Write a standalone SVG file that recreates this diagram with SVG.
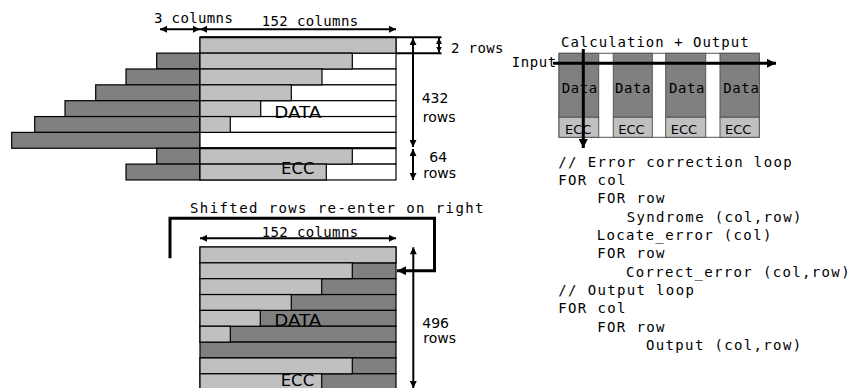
<svg xmlns="http://www.w3.org/2000/svg" width="853" height="388" viewBox="0 0 853 388">
<style>
.mono{font-family:"DejaVu Sans Mono",monospace;font-size:14px;fill:#000}
.sans{font-family:"DejaVu Sans",sans-serif;fill:#000}
.lbl{font-size:14px}
.big{font-size:16.5px}
.code{letter-spacing:1.35px}
.dk{fill:#808080;stroke:#000;stroke-width:1.2}
.lt{fill:#c0c0c0;stroke:#000;stroke-width:1.2}
.wh{fill:#fff;stroke:#000;stroke-width:1.2}
.bdk{fill:#808080;stroke:#555;stroke-width:1}
.blt{fill:#c0c0c0;stroke:#555;stroke-width:1}
.a2{stroke:#000;stroke-width:2;fill:none}
.a3{stroke:#000;stroke-width:3;fill:none}
</style>
<defs>
<marker id="ah" viewBox="0 0 10 10" refX="10" refY="5" markerUnits="userSpaceOnUse" markerWidth="8" markerHeight="7" orient="auto-start-reverse"><path d="M0,0L10,5L0,10z" fill="#000"/></marker>
<marker id="ahs" viewBox="0 0 10 10" refX="10" refY="5" markerUnits="userSpaceOnUse" markerWidth="6" markerHeight="6" orient="auto-start-reverse"><path d="M0,0L10,5L0,10z" fill="#000"/></marker>
<marker id="ahb" viewBox="0 0 10 10" refX="10" refY="5" markerUnits="userSpaceOnUse" markerWidth="10" markerHeight="9" orient="auto-start-reverse"><path d="M0,0L10,5L0,10z" fill="#000"/></marker>
</defs>

<g id="top-buffer">
<rect class="dk" x="156.7" y="53.15" width="43.3" height="15.85"/>
<rect class="dk" x="126" y="69" width="74" height="15.85"/>
<rect class="dk" x="95.7" y="84.85" width="104.3" height="15.85"/>
<rect class="dk" x="65" y="100.7" width="135" height="15.85"/>
<rect class="dk" x="34.7" y="116.55" width="165.3" height="15.85"/>
<rect class="dk" x="11.7" y="132.4" width="188.3" height="15.85"/>
<rect class="dk" x="156.7" y="148.25" width="43.3" height="15.85"/>
<rect class="dk" x="126" y="164.1" width="74" height="15.85"/>
<rect class="wh" x="200" y="37.3" width="196" height="15.85"/>
<rect class="wh" x="200" y="53.15" width="196" height="15.85"/>
<rect class="wh" x="200" y="69" width="196" height="15.85"/>
<rect class="wh" x="200" y="84.85" width="196" height="15.85"/>
<rect class="wh" x="200" y="100.7" width="196" height="15.85"/>
<rect class="wh" x="200" y="116.55" width="196" height="15.85"/>
<rect class="wh" x="200" y="132.4" width="196" height="15.85"/>
<rect class="wh" x="200" y="148.25" width="196" height="15.85"/>
<rect class="wh" x="200" y="164.1" width="196" height="15.85"/>
<rect class="lt" x="200" y="37.3" width="196" height="15.85"/>
<rect class="lt" x="200" y="53.15" width="152.3" height="15.85"/>
<rect class="lt" x="200" y="69" width="122" height="15.85"/>
<rect class="lt" x="200" y="84.85" width="91.3" height="15.85"/>
<rect class="lt" x="200" y="100.7" width="60.7" height="15.85"/>
<rect class="lt" x="200" y="116.55" width="30.3" height="15.85"/>
<rect class="lt" x="200" y="148.25" width="152.3" height="15.85"/>
<rect class="lt" x="200" y="164.1" width="126.3" height="15.85"/>
<line x1="200" y1="148.25" x2="396" y2="148.25" stroke="#000" stroke-width="2.2"/>
<line x1="200" y1="37.3" x2="441.5" y2="37.3" stroke="#000" stroke-width="2"/>
<line x1="396" y1="53.15" x2="441.5" y2="53.15" stroke="#000" stroke-width="2"/>
<text class="sans big" x="274.3" y="117.7" textLength="47" lengthAdjust="spacingAndGlyphs">DATA</text>
<text class="sans big" x="281" y="174">ECC</text>
</g>

<g id="bottom-buffer">
<rect class="dk" x="200" y="247" width="196" height="15.85"/>
<rect class="dk" x="200" y="262.85" width="196" height="15.85"/>
<rect class="dk" x="200" y="278.7" width="196" height="15.85"/>
<rect class="dk" x="200" y="294.55" width="196" height="15.85"/>
<rect class="dk" x="200" y="310.4" width="196" height="15.85"/>
<rect class="dk" x="200" y="326.25" width="196" height="15.85"/>
<rect class="dk" x="200" y="342.1" width="196" height="15.85"/>
<rect class="dk" x="200" y="357.95" width="196" height="15.85"/>
<rect class="dk" x="200" y="373.8" width="196" height="15.85"/>
<rect class="lt" x="200" y="247" width="196" height="15.85"/>
<rect class="lt" x="200" y="262.85" width="152.3" height="15.85"/>
<rect class="lt" x="200" y="278.7" width="121.7" height="15.85"/>
<rect class="lt" x="200" y="294.55" width="91.3" height="15.85"/>
<rect class="lt" x="200" y="310.4" width="60.3" height="15.85"/>
<rect class="lt" x="200" y="326.25" width="30.3" height="15.85"/>
<rect class="lt" x="200" y="357.95" width="152.3" height="15.85"/>
<rect class="lt" x="200" y="373.8" width="121.7" height="15.85"/>
<text class="sans big" x="274.3" y="326" textLength="47" lengthAdjust="spacingAndGlyphs">DATA</text>
<text class="sans big" x="280.7" y="385.5">ECC</text>
</g>

<g id="pipeline">
<rect x="559" y="53.3" width="200.3" height="84" fill="#fff" stroke="#555" stroke-width="1"/>
<rect class="bdk" x="559" y="53.3" width="39.7" height="64"/>
<rect class="blt" x="559" y="117.3" width="39.7" height="20"/>
<rect class="bdk" x="613.3" y="53.3" width="39" height="64"/>
<rect class="blt" x="613.3" y="117.3" width="39" height="20"/>
<rect class="bdk" x="665.7" y="53.3" width="40" height="64"/>
<rect class="blt" x="665.7" y="117.3" width="40" height="20"/>
<rect class="bdk" x="720" y="53.3" width="39.3" height="64"/>
<rect class="blt" x="720" y="117.3" width="39.3" height="20"/>
<text class="mono" style="letter-spacing:0.6px" x="561.7" y="93.3">Data</text>
<text class="mono" style="letter-spacing:0.6px" x="615" y="93.3">Data</text>
<text class="mono" style="letter-spacing:0.6px" x="669" y="93.3">Data</text>
<text class="mono" style="letter-spacing:0.6px" x="723.3" y="93.3">Data</text>
<text class="sans" style="font-size:13px" x="565" y="134.3">ECC</text>
<text class="sans" style="font-size:13px" x="618.3" y="134.3">ECC</text>
<text class="sans" style="font-size:13px" x="670.7" y="134.3">ECC</text>
<text class="sans" style="font-size:13px" x="725" y="134.3">ECC</text>
</g>

<g id="code" class="mono code">
<text x="558.3" y="166.7">// Error correction loop</text>
<text x="558.3" y="185">FOR col</text>
<text x="597.3" y="203.3">FOR row</text>
<text x="626.7" y="221.7">Syndrome (col,row)</text>
<text x="596.7" y="240">Locate_error (col)</text>
<text x="597.3" y="258.3">FOR row</text>
<text x="626" y="276.7">Correct_error (col,row)</text>
<text x="558.3" y="295">// Output loop</text>
<text x="558.3" y="313.3">FOR col</text>
<text x="597.3" y="331.7">FOR row</text>
<text x="646" y="350">Output (col,row)</text>
</g>

<g id="labels">
<text class="mono" style="letter-spacing:0.37px" x="154" y="23.3">3 columns</text>
<text class="mono" style="letter-spacing:0.37px" x="261.7" y="26">152 columns</text>
<text class="mono" style="letter-spacing:0.37px" x="451" y="53.3">2 rows</text>
<text class="sans lbl" x="421.7" y="103.3">432</text>
<text class="sans lbl" x="422.7" y="121.8">rows</text>
<text class="sans lbl" x="429.3" y="162.3">64</text>
<text class="sans lbl" x="423.3" y="178.3">rows</text>
<text class="mono" style="letter-spacing:1px" x="561" y="46.7">Calculation + Output</text>
<text class="mono" style="letter-spacing:0.6px" x="511.7" y="67">Input</text>
<text class="mono" style="letter-spacing:1.4px" x="190" y="213">Shifted rows re-enter on right</text>
<text class="mono" style="letter-spacing:0.37px" x="261.7" y="236.5">152 columns</text>
<text class="sans lbl" x="422.3" y="327.7">496</text>
<text class="sans lbl" x="423.3" y="343.3">rows</text>
</g>

<g id="connectors">
<line class="a2" x1="160" y1="29.3" x2="200" y2="29.3" marker-start="url(#ah)" marker-end="url(#ah)"/>
<line class="a2" x1="200" y1="29.3" x2="396" y2="29.3" marker-start="url(#ah)" marker-end="url(#ah)"/>
<line class="a2" x1="439" y1="38" x2="439" y2="52.5" marker-start="url(#ahs)" marker-end="url(#ahs)"/>
<line class="a2" x1="413" y1="38" x2="413" y2="147" marker-start="url(#ah)" marker-end="url(#ah)"/>
<line class="a2" x1="413" y1="149" x2="413" y2="180" marker-start="url(#ah)" marker-end="url(#ah)"/>
<line class="a3" x1="553" y1="63.3" x2="776" y2="63.3" marker-end="url(#ahb)"/>
<line class="a3" x1="583.3" y1="49" x2="583.3" y2="148" marker-end="url(#ahb)"/>
<line class="a2" x1="200" y1="238.3" x2="396" y2="238.3" marker-start="url(#ah)" marker-end="url(#ah)"/>
<path class="a3" d="M170,258.3V218.3H434.5V270.7H397" marker-end="url(#ahb)"/>
<line class="a2" x1="413.3" y1="247.3" x2="413.3" y2="388" marker-start="url(#ah)" marker-end="url(#ah)"/>
</g>
</svg>
